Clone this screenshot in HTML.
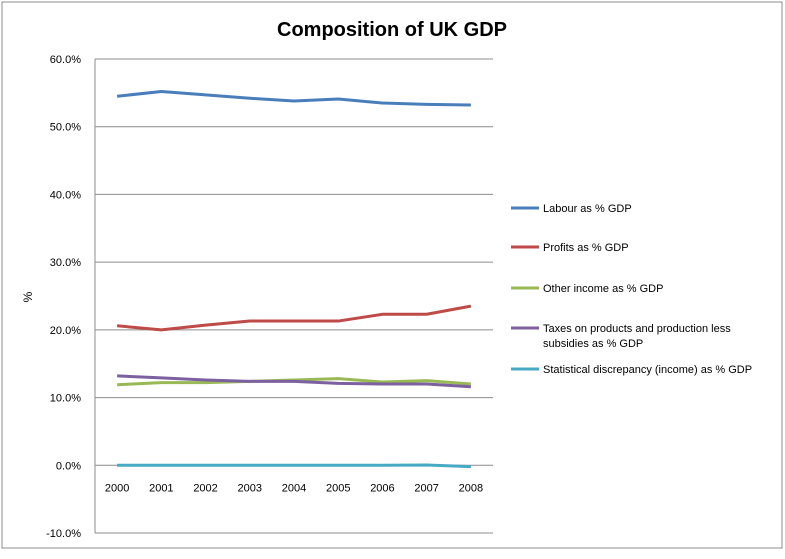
<!DOCTYPE html>
<html><head><meta charset="utf-8">
<style>
body{margin:0;background:#fff;font-family:"Liberation Sans",sans-serif;}
svg{display:block}
</style></head>
<body>
<svg id="c" width="785" height="559">
<rect x="2" y="2" width="780" height="546" fill="#fff" stroke="#8c8c8c"/>
<text x="392" y="36" text-anchor="middle" font-size="20" font-weight="bold">Composition of UK GDP</text>
<text transform="translate(32,297) rotate(-90)" text-anchor="middle" font-size="12">%</text>
<g id="grid"></g><g id="series"></g><g id="legend"></g>
</svg>
<script>
const categories=["2000","2001","2002","2003","2004","2005","2006","2007","2008"];
const yTicks=[-10,0,10,20,30,40,50,60];
const seriesNames=["Labour as % GDP","Profits as % GDP","Other income as % GDP","Taxes on products and production less|subsidies as % GDP","Statistical discrepancy (income) as % GDP"];
const seriesColors=["#4a7ebb","#be4b48","#98b954","#7d60a0","#46aac5"];
const labour=[54.5,55.2,54.7,54.2,53.8,54.1,53.5,53.3,53.2];
const profits=[20.6,20.0,20.7,21.3,21.3,21.3,22.3,22.3,23.5];
const other=[11.9,12.2,12.2,12.4,12.6,12.8,12.3,12.5,12.0];
const taxes=[13.2,12.9,12.6,12.4,12.4,12.1,12.0,12.0,11.6];
const stat=[0,0,0,0,0,0,0,0.05,-0.2];
const allSeries=[labour,profits,other,taxes,stat];
const NS="http://www.w3.org/2000/svg";
const L=95,R=493,T=59,B=533,ymin=-10,ymax=60;
const y=v=>B-(v-ymin)/(ymax-ymin)*(B-T);
const step=(R-L)/categories.length;
const x=i=>L+step*(i+0.5);
function mk(tag,a,p){const e=document.createElementNS(NS,tag);for(const k in a)e.setAttribute(k,a[k]);p.appendChild(e);return e;}
const g=document.getElementById('grid');
yTicks.forEach(t=>{
 const l=mk('line',{x1:L,x2:R,y1:y(t),y2:y(t),stroke:'#8c8c8c','stroke-width':1},g);
 
 
 const tx=mk('text',{x:L-14,y:y(t)+4,'text-anchor':'end','font-size':11},g);
 tx.textContent=t.toFixed(1)+'%';
 
 
});
const ax=mk('line',{x1:L,x2:L,y1:T,y2:B,stroke:'#8c8c8c'},g);


categories.forEach((c,i)=>{
 const tx=mk('text',{x:x(i),y:y(0)+26,'text-anchor':'middle','font-size':11},g);
 tx.textContent=c;
 
 
});
const s=document.getElementById('series');
allSeries.forEach((d,k)=>{
 const p=mk('polyline',{points:d.map((v,i)=>x(i)+','+y(v)).join(' '),fill:'none',stroke:seriesColors[k],'stroke-width':3,'stroke-linejoin':'round'},s);
 
 
});
const lg=document.getElementById('legend');
const ly=[208,247,288,328,369];
seriesNames.forEach((n,k)=>{
 const ln=mk('line',{x1:511,x2:539,y1:ly[k],y2:ly[k],stroke:seriesColors[k],'stroke-width':3},lg);
 
 
 n.split('|').forEach((part,j)=>{
  const t=mk('text',{x:543,y:ly[k]+4+j*15,'font-size':11},lg);
  t.textContent=part;
  
  
 });
});
</script>
</body></html>
